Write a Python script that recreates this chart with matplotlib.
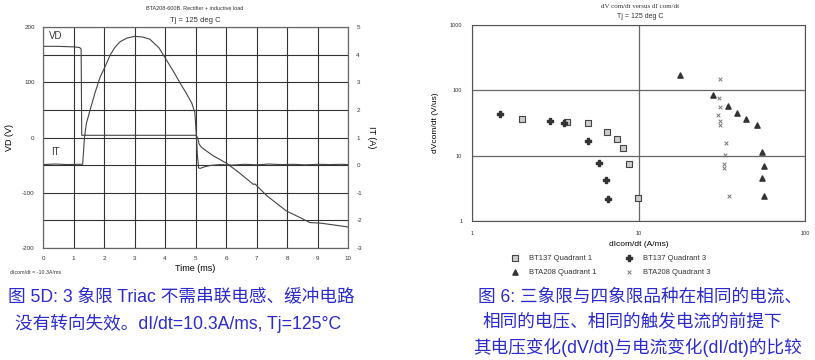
import matplotlib.pyplot as plt
import numpy as np

# ---- left chart data (BTA208, rectifier + inductive load) ----
t_vd = [0, 0.5, 1.0, 1.2, 1.25, 1.27, 2.0, 3.0, 4.0, 5.0, 5.05, 5.08, 5.12, 5.2,
        5.4, 5.58, 6.03, 6.46, 6.9, 6.95, 7.33, 7.98, 8.43, 8.75, 9.1, 9.5, 10.0]
vd = [165, 165, 164, 163, 160, 4, 4, 4, 4, 4, 2, -3, -12, -18,
      -26, -33, -47, -65, -85, -84, -105, -133, -145, -154, -155, -158, -162]

t_it = [0, 0.4, 0.8, 1.2, 1.30, 1.36, 1.42, 1.54, 1.7, 1.87, 2.05, 2.2, 2.35, 2.52,
        2.75, 3.0, 3.25, 3.5, 3.8, 4.05, 4.3, 4.5, 4.7, 4.88, 4.98, 5.02, 5.06,
        5.1, 5.15, 5.3, 5.5, 5.8, 6.2, 6.6, 7.0, 7.4, 7.8, 8.2, 8.6, 9.0, 9.4, 9.8, 10.0]
it = [0.02, 0.04, 0.02, 0.03, 0.03, 1.0, 1.5, 1.98, 2.6, 3.18, 3.6, 3.98, 4.25, 4.46,
      4.6, 4.66, 4.64, 4.56, 4.25, 3.8, 3.35, 2.96, 2.6, 2.24, 1.9, 1.2, 0.4,
      -0.1, -0.12, -0.06, -0.01, 0.02, 0.0, 0.03, 0.01, 0.04, 0.02, 0.03, 0.01, 0.03, 0.02, 0.03, 0.02]

# ---- right chart data (dV/dt vs dI/dt) ----
bt137_q1_x = [2.0, 3.73, 5.0, 6.48, 7.45, 8.08, 8.75, 9.95]
bt137_q1_y = [36.7, 33.0, 31.5, 23.0, 18.0, 12.9, 7.37, 2.26]
bt137_q3_x = [1.48, 2.96, 3.56, 4.98, 5.78, 6.34, 6.52]
bt137_q3_y = [43.4, 33.4, 31.5, 16.9, 7.82, 4.30, 2.15]
bta208_q1_x = [17.7, 28.1, 34.5, 39.2, 44.4, 51.5, 55.0, 56.4, 55.5, 56.8]
bta208_q1_y = [172, 85, 58, 44.8, 36.7, 29.0, 11.5, 6.87, 4.6, 2.39]
bta208_q3_x = [31.0, 30.4, 30.7, 30.1, 30.7, 31.0, 33.6, 33.1, 32.7, 32.7, 35.0]
bta208_q3_y = [148, 76, 55.5, 42.3, 33.4, 29.0, 15.5, 10.2, 7.46, 6.5, 2.45]

cap_color = '#2a2ad0'
plt.rcParams['font.family'] = ['Liberation Sans', 'Noto Sans CJK SC', 'DejaVu Sans']
plt.rcParams['axes.unicode_minus'] = False

fig = plt.figure(figsize=(8.15, 3.6), dpi=100)

# ================= left chart =================
ax = fig.add_axes([43/815, 1-248/360, 305/815, 221/360])
ax.plot(t_vd, vd, color='#444444', lw=0.8)
ax.set_xlim(0, 10)
ax.set_ylim(-200, 200)
ax.set_xticks(range(11))
ax.set_yticks(range(-200, 201, 50))
ax.set_yticklabels([str(v) if v % 100 == 0 else '' for v in range(-200, 201, 50)])
ax.grid(True, color='#333333', lw=0.8)
ax.tick_params(length=0, labelsize=4.5, pad=6, colors='#333333')
for s in ax.spines.values():
    s.set_color('#666666')
ax.set_xlabel('Time (ms)', fontsize=6.5, labelpad=2)
ax.set_ylabel('VD (V)', fontsize=6.5, labelpad=6)

ax2 = ax.twinx()
ax2.plot(t_it, it, color='#444444', lw=0.8)
ax2.set_ylim(-3, 5)
ax2.set_yticks(range(-3, 6))
ax2.tick_params(length=0, labelsize=4.5, pad=6, colors='#333333')
ax2.set_ylabel('IT (A)', fontsize=6.5, rotation=270, labelpad=10)
for s in ax2.spines.values():
    s.set_color('#666666')

ax.text(0.2, 178, 'VD', fontsize=7, color='#333333')
ax.text(0.25, -32, 'IT', fontsize=7, color='#333333')
fig.text(195/815, 1-8/360, 'BTA208-600B. Rectifier + inductive load', fontsize=4,
         ha='center', va='center', color='#333333')
fig.text(195/815, 1-20/360, 'Tj = 125 deg C', fontsize=5.5, ha='center', va='center',
         color='#333333')
fig.text(10/815, 1-272/360, 'dIcom/dt = -10.3A/ms', fontsize=3.8, ha='left',
         va='center', color='#333333')

# ================= right chart =================
bx = fig.add_axes([472/815, 1-221/360, 333/815, 196/360])
bx.set_xscale('log')
bx.set_yscale('log')
bx.set_xlim(1, 100)
bx.set_ylim(1, 1000)
bx.set_xticks([1, 10, 100])
bx.set_xticklabels(['1', '10', '100'])
bx.set_yticks([1, 10, 100, 1000])
bx.set_yticklabels(['1', '10', '100', '1000'])
bx.minorticks_off()
bx.grid(True, which='major', color='#666666', lw=0.9)
bx.tick_params(length=0, labelsize=4, pad=7, colors='#333333')
for s in bx.spines.values():
    s.set_color('#555555')
bx.set_xlabel('dIcom/dt (A/ms)', fontsize=6, labelpad=4)
bx.set_ylabel('dVcom/dt (V/us)', fontsize=6, labelpad=8)

h1 = bx.scatter(bt137_q1_x, bt137_q1_y, marker='s', s=13, facecolor='#cccccc',
                edgecolor='#444444', linewidths=0.8, zorder=3)
h2 = bx.scatter(bt137_q3_x, bt137_q3_y, marker='P', s=14, color='#333333', zorder=3)
h3 = bx.scatter(bta208_q1_x, bta208_q1_y, marker='^', s=14, color='#333333', zorder=3)
h4 = bx.scatter(bta208_q3_x, bta208_q3_y, marker='x', s=7, color='#777777',
                linewidths=0.7, zorder=3)
bx.legend([h1, h3, h2, h4],
          ['BT137 Quadrant 1', 'BTA208 Quadrant 1', 'BT137 Quadrant 3', 'BTA208 Quadrant 3'],
          ncol=2, loc='upper left', bbox_to_anchor=(0.085, -0.135), frameon=False,
          fontsize=5.5, columnspacing=3.3, handletextpad=0.8, labelspacing=0.9,
          labelcolor='#333333')

fig.text(640/815, 1-7/360, 'dV com/dt versus dI com/dt', fontsize=5,
         family='Liberation Serif', ha='center', va='center', color='#333333')
fig.text(640/815, 1-16/360, 'Tj = 125 deg C', fontsize=5, ha='center', va='center',
         color='#333333')

# ================= captions =================
cap_kw = dict(fontsize=12.7, color=cap_color, va='center', ha='left', weight='medium')
fig.text(8/815, 1-297/360, '图 5D: 3 象限 Triac 不需串联电感、缓冲电路', **cap_kw)
fig.text(15/815, 1-323/360, '没有转向失效。dI/dt=10.3A/ms, Tj=125°C', **cap_kw)
fig.text(478/815, 1-297/360, '图 6: 三象限与四象限品种在相同的电流、', **cap_kw)
fig.text(483/815, 1-322/360, '相同的电压、相同的触发电流的前提下', **cap_kw)
fig.text(473/815, 1-348/360, '其电压变化(dV/dt)与电流变化(dI/dt)的比较', **cap_kw)

fig.savefig('out.png', dpi=100)
